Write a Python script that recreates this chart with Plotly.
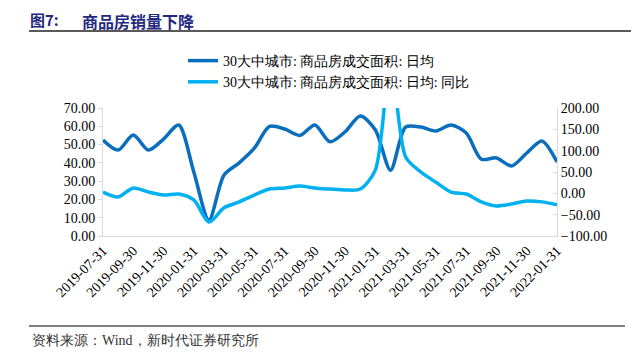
import plotly.graph_objects as go

months = ["2019-07-31","2019-08-31","2019-09-30","2019-10-31","2019-11-30","2019-12-31",
          "2020-01-31","2020-02-29","2020-03-31","2020-04-30","2020-05-31","2020-06-30",
          "2020-07-31","2020-08-31","2020-09-30","2020-10-31","2020-11-30","2020-12-31",
          "2021-01-31","2021-02-28","2021-03-31","2021-04-30","2021-05-31","2021-06-30",
          "2021-07-31","2021-08-31","2021-09-30","2021-10-31","2021-11-30","2021-12-31",
          "2022-01-31"]
daily_avg = [52.5, 47.0, 55.2, 47.0, 53.0, 60.7, 35.0, 8.7, 33.4, 40.0, 48.0, 60.0,
             58.5, 55.0, 60.7, 51.5, 57.0, 65.6, 58.0, 36.0, 59.6, 59.6, 57.4, 60.7,
             56.3, 42.0, 42.7, 38.3, 45.4, 52.0, 40.5]
yoy = [3.0, -8.6, 12.5, 3.0, -4.0, -1.6, -15.6, -67.2, -34.0, -20.0, -4.0, 10.0,
       12.5, 17.0, 12.5, 10.0, 8.0, 10.0, 55.0, 310.0, 85.0, 50.0, 26.0, 3.0,
       -1.6, -20.0, -29.7, -25.0, -18.0, -20.0, -27.0]
tick_labels = months[::2]

name1 = "30大中城市: 商品房成交面积: 日均"
name2 = "30大中城市: 商品房成交面积: 日均: 同比"

# page body has an 8px default margin; work in window pixels and shift
OFF = 8
W, H = 639 - OFF, 364 - OFF
L, R, T, B = 103 - OFF, 557 - OFF, 108 - OFF, 236 - OFF
def px(x):
    return (x - OFF - L) / (R - L)
def py(y):
    return (B - (y - OFF)) / (B - T)

serif = "Liberation Serif"

fig = go.Figure()
fig.add_trace(go.Scatter(x=months, y=daily_avg, name=name1, mode="lines",
                         line=dict(color="#0A6EBD", width=3.5, shape="spline", smoothing=0.8),
                         yaxis="y"))
fig.add_trace(go.Scatter(x=months, y=yoy, name=name2, mode="lines",
                         line=dict(color="#00B0F0", width=3.5, shape="spline", smoothing=0.8),
                         yaxis="y2"))

fig.update_layout(
    width=W, height=H,
    margin=dict(l=L, r=W - R, t=T, b=H - B, autoexpand=False),
    paper_bgcolor="white", plot_bgcolor="white",
    showlegend=True,
    legend=dict(x=px(183), y=py(45), xanchor="left", yanchor="top",
                font=dict(family=serif, size=14, color="#000"),
                bgcolor="rgba(0,0,0,0)", tracegroupgap=0, itemwidth=30),
    xaxis=dict(type="category", range=[0, len(months) - 1], tickmode="array",
               tickvals=tick_labels, ticktext=tick_labels, tickangle=-45,
               showline=True, ticks="", showgrid=False, zeroline=False,
               linecolor="#D9D9D9", linewidth=1, automargin=False,
               tickfont=dict(family=serif, size=14, color="#000")),
    yaxis=dict(range=[0, 70], dtick=10, tickformat=".2f", showline=True,
               ticks="outside", ticklen=4, tickcolor="#D9D9D9", showgrid=False, zeroline=False,
               linecolor="#D9D9D9", linewidth=1, automargin=False,
               tickfont=dict(family=serif, size=14, color="#000")),
    yaxis2=dict(range=[-100, 200], dtick=50, tickformat=".2f", overlaying="y", side="right",
                showline=True, ticks="inside", ticklen=4, tickcolor="#D9D9D9",
                showgrid=False, zeroline=False, linecolor="#D9D9D9", linewidth=1,
                automargin=False, tickfont=dict(family=serif, size=14, color="#000")),
)

fig.add_annotation(text="<b>图7:</b>", xref="paper", yref="paper", x=px(29), y=py(8),
                   xanchor="left", yanchor="top", showarrow=False, borderpad=0,
                   font=dict(family="Noto Sans CJK SC", size=15, color="#1F2A80"))
fig.add_annotation(text="<b>商品房销量下降</b>", xref="paper", yref="paper", x=px(81), y=py(8),
                   xanchor="left", yanchor="top", showarrow=False, borderpad=0,
                   font=dict(family="Noto Sans CJK SC", size=16, color="#1F2A80"))
fig.add_shape(type="line", xref="paper", yref="paper", x0=px(29), x1=px(639), y0=py(31), y1=py(31),
              line=dict(color="#222", width=1.5))
fig.add_shape(type="line", xref="paper", yref="paper", x0=px(29), x1=px(625), y0=py(326), y1=py(326),
              line=dict(color="#555", width=1.5))
fig.add_annotation(text="资料来源：Wind，新时代证券研究所", xref="paper", yref="paper",
                   x=px(30), y=py(340), xanchor="left", yanchor="middle", showarrow=False,
                   font=dict(family=serif, size=14, color="#333"))

fig.write_html("out.html")
